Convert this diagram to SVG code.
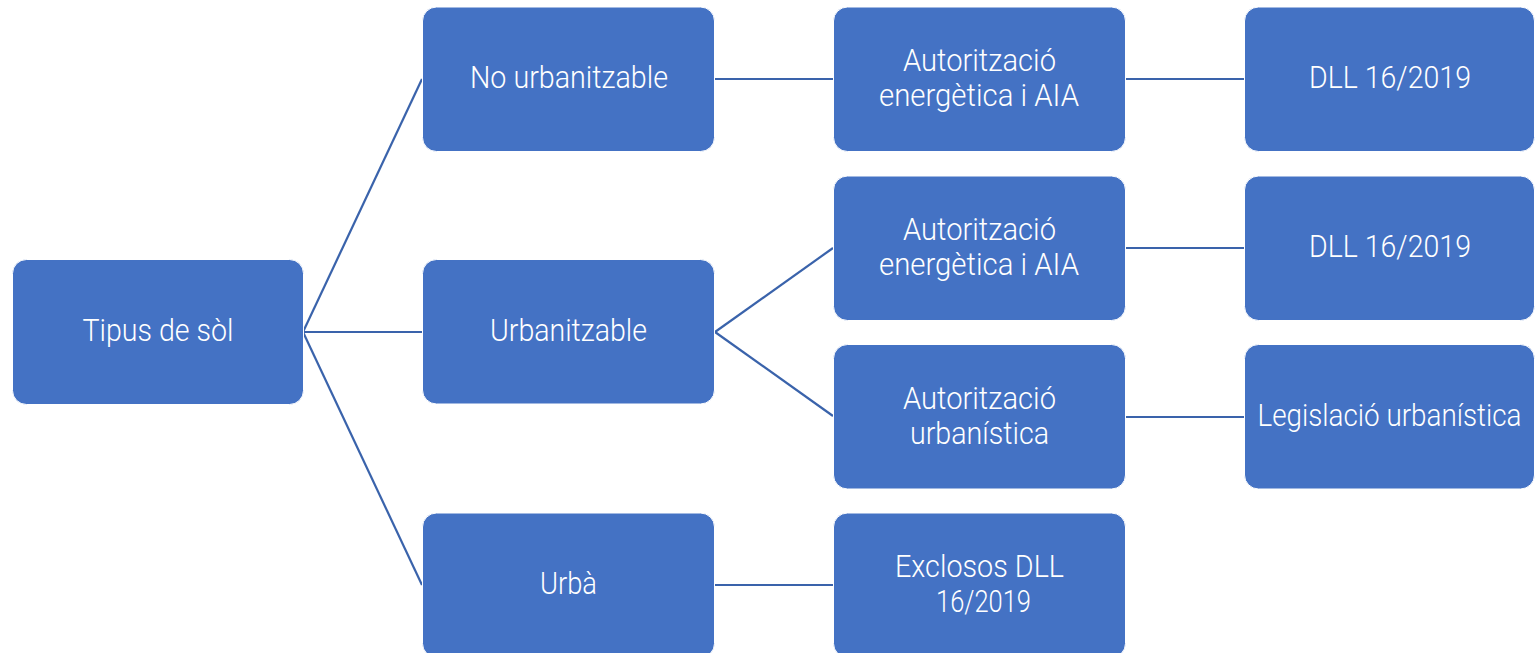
<svg xmlns="http://www.w3.org/2000/svg" width="1535" height="653" viewBox="0 0 1535 653">
<style>
.box{fill:#4472C4;stroke:#ffffff;stroke-width:1}
.t{font-family:Roboto,"Liberation Sans",sans-serif;font-weight:300;font-size:31px;fill:#ffffff;text-anchor:middle}
.c{stroke:#3A63AB;stroke-width:2.2;fill:none}
</style>
<rect width="1535" height="653" fill="#ffffff"/>
<g id="connectors">
<line class="c" x1="303" y1="332" x2="422" y2="79"/>
<line class="c" x1="303" y1="332" x2="422" y2="332"/>
<line class="c" x1="303" y1="332" x2="422" y2="585"/>
<line class="c" x1="714" y1="79" x2="833" y2="79"/>
<line class="c" x1="715" y1="332" x2="833" y2="248"/>
<line class="c" x1="715" y1="332" x2="833" y2="416"/>
<line class="c" x1="714" y1="585" x2="833" y2="585"/>
<line class="c" x1="1125" y1="79" x2="1244" y2="79"/>
<line class="c" x1="1125" y1="248" x2="1244" y2="248"/>
<line class="c" x1="1125" y1="417" x2="1244" y2="417"/>
</g>
<g id="n-tipus">
<rect class="box" x="12.5" y="259.5" width="291" height="145" rx="14"/>
<text class="t" x="158" y="341" textLength="151" lengthAdjust="spacingAndGlyphs">Tipus de sòl</text>
</g>
<g id="n-nourb">
<rect class="box" x="422.5" y="7" width="292" height="144.5" rx="14"/>
<text class="t" x="569" y="88" textLength="198" lengthAdjust="spacingAndGlyphs">No urbanitzable</text>
</g>
<g id="n-urb">
<rect class="box" x="422.5" y="259.5" width="292" height="144.5" rx="14"/>
<text class="t" x="568.5" y="341" textLength="157" lengthAdjust="spacingAndGlyphs">Urbanitzable</text>
</g>
<g id="n-urba">
<rect class="box" x="422.5" y="513" width="292" height="144.5" rx="14"/>
<text class="t" x="568.5" y="594" textLength="57" lengthAdjust="spacingAndGlyphs">Urbà</text>
</g>
<g id="n-aut1">
<rect class="box" x="833.5" y="7" width="292" height="144.5" rx="14"/>
<text class="t" x="979.5" y="71" textLength="153" lengthAdjust="spacingAndGlyphs">Autorització</text>
<text class="t" x="979" y="106" textLength="200" lengthAdjust="spacingAndGlyphs">energètica i AIA</text>
</g>
<g id="n-aut2">
<rect class="box" x="833.5" y="176" width="292" height="144.5" rx="14"/>
<text class="t" x="979.5" y="240" textLength="153" lengthAdjust="spacingAndGlyphs">Autorització</text>
<text class="t" x="979" y="275" textLength="200" lengthAdjust="spacingAndGlyphs">energètica i AIA</text>
</g>
<g id="n-aut3">
<rect class="box" x="833.5" y="344.5" width="292" height="144.5" rx="14"/>
<text class="t" x="979.5" y="408.5" textLength="153" lengthAdjust="spacingAndGlyphs">Autorització</text>
<text class="t" x="979.5" y="443.5" textLength="139" lengthAdjust="spacingAndGlyphs">urbanística</text>
</g>
<g id="n-excl">
<rect class="box" x="833.5" y="513" width="292" height="144.5" rx="14"/>
<text class="t" x="979.5" y="577" textLength="169" lengthAdjust="spacingAndGlyphs">Exclosos DLL</text>
<text class="t" x="983.5" y="612" textLength="95" lengthAdjust="spacingAndGlyphs">16/2019</text>
</g>
<g id="n-dll1">
<rect class="box" x="1244.5" y="7" width="290" height="144.5" rx="14"/>
<text class="t" x="1390" y="88" textLength="162" lengthAdjust="spacingAndGlyphs">DLL 16/2019</text>
</g>
<g id="n-dll2">
<rect class="box" x="1244.5" y="176" width="290" height="144.5" rx="14"/>
<text class="t" x="1390" y="257" textLength="162" lengthAdjust="spacingAndGlyphs">DLL 16/2019</text>
</g>
<g id="n-leg">
<rect class="box" x="1244.5" y="344.5" width="290" height="144.5" rx="14"/>
<text class="t" x="1389.5" y="426" textLength="264" lengthAdjust="spacingAndGlyphs" font-size="30">Legislació urbanística</text>
</g>
</svg>
